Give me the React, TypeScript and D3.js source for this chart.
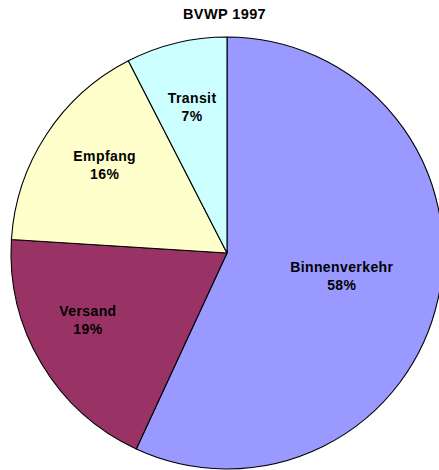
import React, { useEffect, useRef } from 'react';
import * as d3 from 'd3';

// BVWP 1997 – shares by traffic type
const categories = ['Binnenverkehr', 'Versand', 'Empfang', 'Transit'];
const shares = [56.9, 19.1, 16.45, 7.55];
const percentLabels = ['58%', '19%', '16%', '7%'];
const colors = ['#9999FF', '#993366', '#FFFFCC', '#CCFFFF'];
const title = 'BVWP 1997';

// label placement: distance from centre (fraction of radius) and angle nudge (deg)
const labelRadius = [0.544, 0.718, 0.693, 0.687];
const labelNudge = [0, 4.5, 2, 0];

const App: React.FC = () => {
  const svgRef = useRef<SVGSVGElement>(null);
  const width = 439;
  const height = 470;

  useEffect(() => {
    if (!svgRef.current) return;
    const cx = 227;
    const cy = 253;
    const radius = 216;
    const font = 'Liberation Sans, Arial, sans-serif';

    d3.select(svgRef.current).selectAll('*').remove();
    const svg = d3.select(svgRef.current);

    svg.append('text')
      .attr('x', 224.5)
      .attr('y', 19)
      .attr('text-anchor', 'middle')
      .style('font-family', font)
      .style('font-weight', 'bold')
      .style('font-size', '14.5px')
      .style('letter-spacing', '0.4px')
      .text(title);

    const g = svg.append('g').attr('transform', `translate(${cx},${cy})`);

    const pie = d3.pie<number>().sort(null).value(d => d);
    const arcs = pie(shares);
    const arc = d3.arc<d3.PieArcDatum<number>>().innerRadius(0).outerRadius(radius);

    g.selectAll('path.slice')
      .data(arcs)
      .enter().append('path')
      .attr('class', 'slice')
      .attr('d', arc as any)
      .attr('fill', (_d, i) => colors[i])
      .attr('stroke', '#000')
      .attr('stroke-width', 1.1)
      .attr('stroke-linejoin', 'round');

    const labels = g.selectAll('g.label')
      .data(arcs)
      .enter().append('g')
      .attr('class', 'label')
      .attr('transform', (d, i) => {
        const a = (d.startAngle + d.endAngle) / 2 + (labelNudge[i] * Math.PI) / 180;
        const r = radius * labelRadius[i];
        return `translate(${Math.sin(a) * r},${-Math.cos(a) * r})`;
      });

    labels.append('text')
      .attr('y', -6)
      .attr('text-anchor', 'middle')
      .style('font-family', font)
      .style('font-weight', 'bold')
      .style('font-size', '14px')
      .style('letter-spacing', '0.4px')
      .text((_d, i) => categories[i]);

    labels.append('text')
      .attr('y', 12)
      .attr('text-anchor', 'middle')
      .style('font-family', font)
      .style('font-weight', 'bold')
      .style('font-size', '14px')
      .style('letter-spacing', '0.4px')
      .text((_d, i) => percentLabels[i]);
  }, []);

  return (
    <svg
      ref={svgRef}
      width={width}
      height={height}
      style={{ position: 'absolute', left: 0, top: 0, background: '#fff' }}
    />
  );
};

export default App;
